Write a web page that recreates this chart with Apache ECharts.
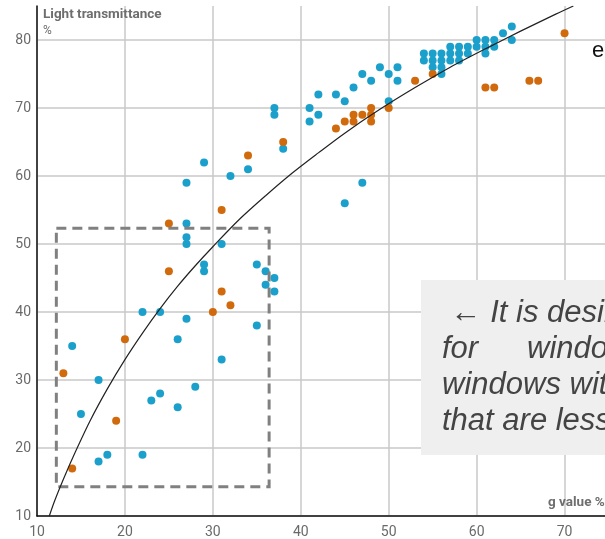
<!DOCTYPE html>
<html><head><meta charset="utf-8">
<script src="https://cdn.jsdelivr.net/npm/echarts@6/dist/echarts.min.js"></script>
<style>html,body{margin:0;padding:0;background:#fff}#c{width:605px;height:539px}</style>
</head><body><div id="c"></div>
<script>
// g value (%) / light transmittance (%) pairs
const bluePoints = [
  [14,35],[15,25],[17,30],[17,18],[18,19],[22,40],[22,19],[23,27],[24,40],[24,28],
  [26,36],[26,26],[27,59],[27,53],[27,51],[27,50],[27,39],[28,29],[29,62],[29,47],
  [29,46],[31,50],[31,33],[32,60],[34,61],[35,47],[35,38],[36,46],[36,44],[37,45],
  [37,43],[37,70],[37,69],[38,64],[41,70],[41,68],[42,72],[42,69],[44,72],[45,71],
  [45,56],[46,73],[47,75],[47,59],[48,74],[49,76],[50,75],[50,71],[51,76],[51,74],
  [54,78],[55,78],[56,78],[57,78],[58,78],[59,78],[61,78],
  [54,77],[55,77],[56,77],[57,77],[58,77],[55,76],[56,76],[56,75],
  [57,79],[58,79],[59,79],[60,79],[61,79],[62,79],
  [60,80],[61,80],[62,80],[64,80],[63,81],[64,82]
];
const orangePoints = [
  [13,31],[14,17],[19,24],[20,36],[25,53],[25,46],[30,40],[31,55],[31,43],[32,41],
  [34,63],[38,65],[44,67],[45,68],[46,69],[46,68],[47,69],[48,70],[48,69],[48,68],
  [50,70],[53,74],[55,75],[61,73],[62,73],[66,74],[67,74],[70,81]
];
// trend curve, points
const curveG = [11.4,12,13,14,16,18,20,22,24,26,28,30,33,36,39,42,45,49,53,57,61,65,69,71];
const curveT = [10,12.2,15.4,18.4,23.9,28.7,33.0,36.9,40.5,43.8,46.8,49.6,53.6,57.1,60.4,63.4,66.3,69.8,73.0,76.0,78.7,81.3,83.8,85];
// dashed highlight box corners (g, T)
const boxFrom = [12.2, 52.3];
const boxTo = [36.4, 14.3];
const xTickLabels = [10,20,30,40,50,60,70];
const yTickLabels = [10,20,30,40,50,60,70,80];
const noteLines = [' \u2190 It is desirable to look', 'for', 'windows like these:', 'windows with g values', 'that are less than 35%'];

const chart = echarts.init(document.getElementById('c'), null, {renderer:'canvas'});
const labelStyle = {color:'#6a6a6a', fontFamily:'Roboto', fontSize:14};
const noteFont = 'italic 31px "Liberation Sans", Arial, sans-serif';
chart.setOption({
  animation:false,
  backgroundColor:'#fff',
  grid:{left:37, top:6, right:0, bottom:22, containLabel:false},
  xAxis:{type:'value', min:10, max:74.6, interval:10,
    axisLine:{lineStyle:{color:'#111', width:1.5}}, axisTick:{show:false},
    axisLabel:Object.assign({margin:9, showMaxLabel:false,
      formatter:v => xTickLabels.indexOf(v) >= 0 ? String(v) : ''}, labelStyle),
    splitLine:{show:true, showMaxLine:false, lineStyle:{color:'#c8c8c8', width:1.5}}},
  yAxis:{type:'value', min:10, max:85, interval:10,
    axisLine:{show:true, lineStyle:{color:'#111', width:1.5}}, axisTick:{show:false},
    axisLabel:Object.assign({margin:6, showMaxLabel:false,
      formatter:v => yTickLabels.indexOf(v) >= 0 ? String(v) : ''}, labelStyle),
    splitLine:{show:true, showMaxLine:false, lineStyle:{color:'#c8c8c8', width:1.5}}},
  series:[
    {type:'scatter', name:'blue', data:bluePoints, symbolSize:8, z:3,
      itemStyle:{color:'#1ba0cb', opacity:1}},
    {type:'scatter', name:'orange', data:orangePoints, symbolSize:8, z:3,
      itemStyle:{color:'#d06a0c', opacity:1},
      markArea:{silent:true, z:4,
        itemStyle:{color:'rgba(0,0,0,0)', borderColor:'#808080', borderWidth:3, borderType:[10,6]},
        data:[[{coord:boxFrom},{coord:boxTo}]]}},
    {type:'line', name:'curve', data:curveG.map((g,i)=>[g,curveT[i]]), smooth:0.3,
      showSymbol:false, z:5, lineStyle:{color:'#222', width:1.2}}
  ],
  graphic:[
    {type:'text', x:43, y:15, z:50, style:{text:'Light transmittance', font:'bold 13.5px Roboto', fill:'#6e6e6e', verticalAlign:'middle'}},
    {type:'text', x:43, y:31, z:50, style:{text:'%', font:'12px Roboto', fill:'#6e6e6e', verticalAlign:'middle'}},
    {type:'text', x:548, y:503, z:50, style:{text:'g value %', font:'bold 13.5px Roboto', fill:'#6e6e6e', verticalAlign:'middle'}},
    {type:'text', x:592, y:51, z:50, style:{text:'e', font:'22px "Liberation Sans", Arial, sans-serif', fill:'#111', verticalAlign:'middle'}},
    {type:'rect', z:40, shape:{x:421, y:280, width:260, height:175}, style:{fill:'#efefef'}},
    {type:'text', x:442, y:313, z:50, style:{text:noteLines[0], font:noteFont, fill:'#444', verticalAlign:'middle'}},
    {type:'text', x:442, y:349, z:50, style:{text:noteLines[1], font:noteFont, fill:'#444', verticalAlign:'middle'}},
    {type:'text', x:527, y:349, z:50, style:{text:noteLines[2], font:noteFont, fill:'#444', verticalAlign:'middle'}},
    {type:'text', x:442, y:385, z:50, style:{text:noteLines[3], font:noteFont, fill:'#444', verticalAlign:'middle'}},
    {type:'text', x:442, y:421, z:50, style:{text:noteLines[4], font:noteFont, fill:'#444', verticalAlign:'middle'}}
  ]
});
</script></body></html>
